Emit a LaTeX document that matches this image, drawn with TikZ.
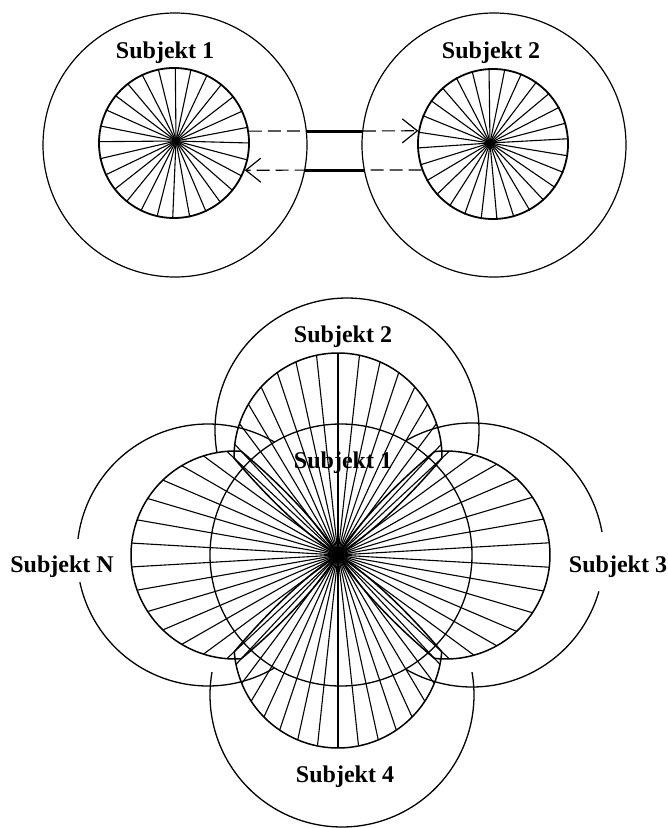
\documentclass[tikz,border=0pt]{standalone}
\usepackage{fontspec}
\setmainfont{Liberation Serif}
\usetikzlibrary{arrows.meta}
\begin{document}
\begin{tikzpicture}[x=1pt,y=-1pt,
  outerc/.style={circle,draw,line width=1.2pt,minimum size=264pt,inner sep=0pt},
  innerc/.style={circle,draw,line width=1.8pt,minimum size=150pt,inner sep=0pt},
  spoke/.style={line width=1.1pt},
  lab/.style={font=\fontsize{24}{28}\selectfont\bfseries,inner sep=0pt},
  dasharrow/.style={line width=1.2pt,dash pattern=on 13pt off 6pt,-{Straight Barb[length=15pt,width=24pt,line width=1.2pt]}},
  bar/.style={line width=2.8pt},
  arcl/.style={line width=1.3pt},
  pet/.style={line width=1.5pt},
  ray/.style={line width=1.1pt}
]
\useasboundingbox (0,0) rectangle (668,828);
% ---------- top part ----------
\node[outerc] (o1) at (175,145) {};
\node[outerc] (o2) at (494,145) {};
\node[innerc] (i1) at (174,143) {};
\node[innerc] (i2) at (493,144) {};
\coordinate (h1) at (176,141);
\coordinate (h2) at (490,143);
\foreach \k in {0,...,27}{
  \draw[spoke] (h1) -- (i1.\k*12.857);
  \draw[spoke] (h2) -- (i2.\k*12.857+4);
}
\fill (h1) circle[radius=3pt];
\fill (h2) circle[radius=3pt];
\node[lab] (s1) at (165,53) {Subjekt 1};
\node[lab] (s2) at (491,53) {Subjekt 2};
\draw[dasharrow] (i1.9) -- (i2.170);
\draw[dasharrow] (i2.200) -- (i1.-21);
\draw[bar] (o1.6) -- (o2.174);
\draw[bar] (o1.-11) -- (o2.191);
% ---------- bottom part ----------
\node[circle,draw,line width=1.3pt,minimum size=262pt,inner sep=0pt] (c0) at (341,555) {};
\coordinate (H) at (338,555);
\draw[arcl] plot[domain=-10:190,samples=100,variable=\q] ({347+132*cos(\q)},{430-132*sin(\q)});
\draw[arcl] plot[domain=59.5:173,samples=80,variable=\q] ({208+131*cos(\q)},{555-131*sin(\q)});
\draw[arcl] plot[domain=192:300.5,samples=80,variable=\q] ({208+131*cos(\q)},{555-131*sin(\q)});
\draw[arcl] plot[domain=10:120,samples=80,variable=\q] ({472+132*cos(\q)},{555-132*sin(\q)});
\draw[arcl] plot[domain=-120:-16,samples=80,variable=\q] ({472+132*cos(\q)},{555-132*sin(\q)});
\draw[arcl] plot[domain=170:370,samples=100,variable=\q] ({342+132*cos(\q)},{695-132*sin(\q)});
\foreach \a/\L/\n in {90/202/15,180/207/14,0/212/14,270/193/15}{
  \pgfmathsetmacro\c{\L-104}
  \pgfmathsetmacro\rE{\c*cos(47)+sqrt(10816-\c*\c*sin(47)*sin(47))}
  \draw[pet] plot[domain=-47:47,samples=80,variable=\q]
    ({338+(\c*cos(\q)+sqrt(10816-\c*\c*sin(\q)*sin(\q)))*cos(\a+\q)},
     {555-(\c*cos(\q)+sqrt(10816-\c*\c*sin(\q)*sin(\q)))*sin(\a+\q)});
  \foreach \s in {1,-1}{
    \draw[pet] (H) .. controls ({338+40*cos(\a+58*(\s))},{555-40*sin(\a+58*(\s))})
      and ({338+\rE*cos(\a+47*(\s))-45*cos(\a+40*(\s))},{555-\rE*sin(\a+47*(\s))+45*sin(\a+40*(\s))})
      .. ({338+\rE*cos(\a+47*(\s))},{555-\rE*sin(\a+47*(\s))});
  }
  \pgfmathsetmacro\st{86/(\n-1)}
  \foreach \i in {1,...,\n}{
    \pgfmathsetmacro\tt{-43+(\i-1)*\st}
    \pgfmathsetmacro\rr{\c*cos(\tt)+sqrt(10816-\c*\c*sin(\tt)*sin(\tt))}
    \draw[ray] (H) -- ({338+\rr*cos(\a+\tt)},{555-\rr*sin(\a+\tt)});
  }
}
\fill (H) circle[radius=4pt];
\node[lab] (b2) at (343,337) {Subjekt 2};
\node[lab] (b1) at (343,463) {Subjekt 1};
\node[lab] (bN) at (62,567) {Subjekt N};
\node[lab] (b3) at (618,567) {Subjekt 3};
\node[lab] (b4) at (345,777) {Subjekt 4};
\end{tikzpicture}
\end{document}
